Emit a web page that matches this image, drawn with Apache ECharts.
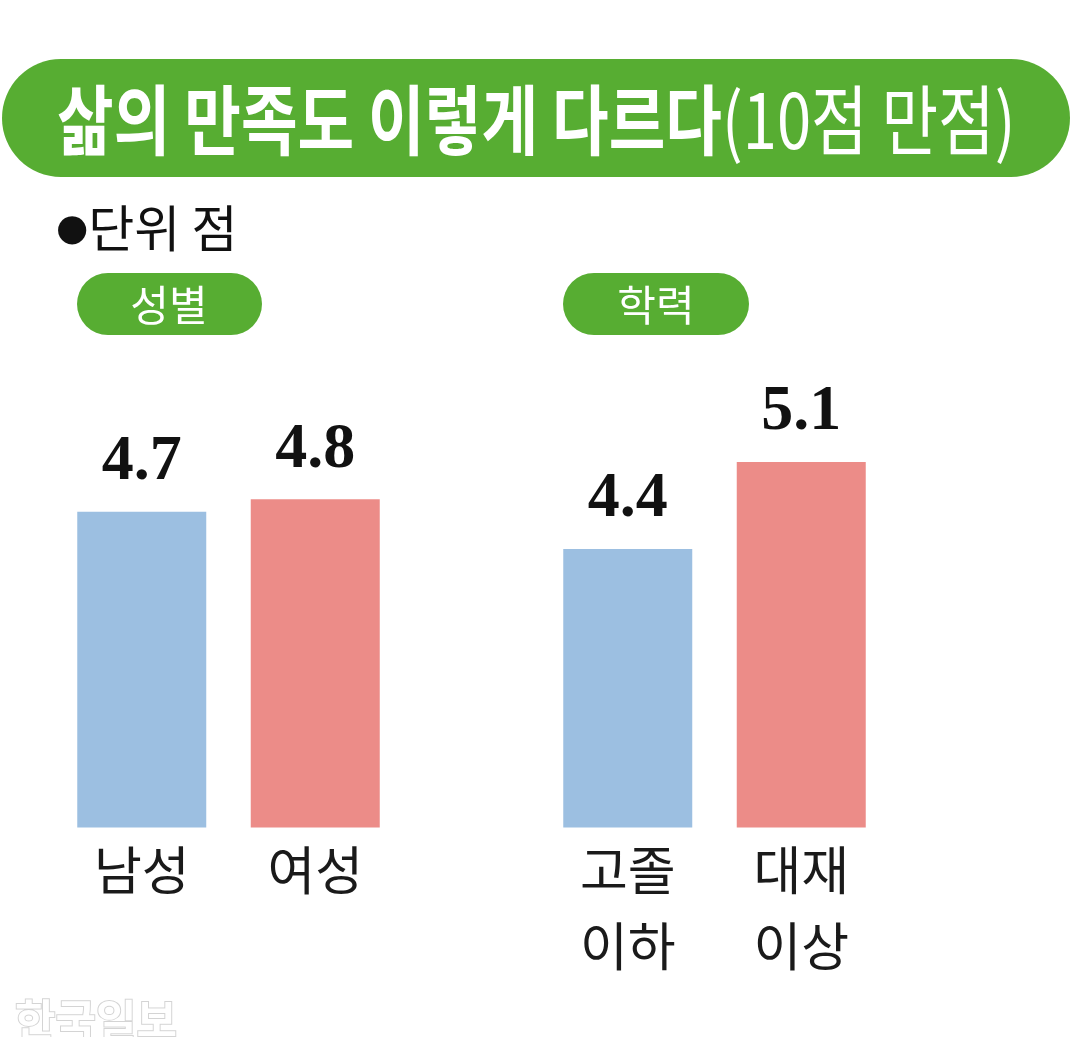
<!DOCTYPE html>
<html>
<head>
<meta charset="utf-8">
<title>삶의 만족도 이렇게 다르다</title>
<style>
  html, body { margin: 0; padding: 0; background: #fff; }
  #chart { width: 1080px; height: 1037px; }
</style>
</head>
<body>
<div id="chart"></div>
<script src="https://cdn.jsdelivr.net/npm/echarts@6/dist/echarts.min.js"></script>
<script>
// 데이터
var genderCats = ['남성', '여성'];
var genderValues = [4.7, 4.8];
var eduCats = ['고졸\n이하', '대재\n이상'];
var eduValues = [4.4, 5.1];
var barColors = ['#9cbfe1', '#ec8c88'];

var green = '#57ad32';
var cjk = '"Noto Sans CJK KR", "Noto Sans", sans-serif';

function barData(values) {
  return values.map(function (v, i) {
    return { value: v, itemStyle: { color: barColors[i] } };
  });
}

var chart = echarts.init(document.getElementById('chart'));

var xAxisBase = {
  type: 'category',
  axisLine: { show: false },
  axisTick: { show: false },
  axisLabel: {
    color: '#1a1a1a',
    fontFamily: cjk,
    fontSize: 52,
    lineHeight: 76,
    margin: 5
  }
};

var yAxisBase = {
  type: 'value',
  min: 2.16,
  max: 6,
  show: false
};

var labelStyle = {
  show: true,
  position: 'top',
  distance: 17,
  color: '#111',
  fontFamily: '"Liberation Serif", serif',
  fontWeight: 'bold',
  fontSize: 64
};

var option = {
  animation: false,
  grid: [
    { left: 55, width: 347, top: 350, bottom: 209.5 },
    { left: 541, width: 347, top: 350, bottom: 209.5 }
  ],
  xAxis: [
    Object.assign({}, xAxisBase, { gridIndex: 0, data: genderCats }),
    Object.assign({}, xAxisBase, { gridIndex: 1, data: eduCats })
  ],
  yAxis: [
    Object.assign({}, yAxisBase, { gridIndex: 0 }),
    Object.assign({}, yAxisBase, { gridIndex: 1 })
  ],
  series: [
    {
      type: 'bar', xAxisIndex: 0, yAxisIndex: 0,
      barWidth: 129, data: barData(genderValues), label: labelStyle
    },
    {
      type: 'bar', xAxisIndex: 1, yAxisIndex: 1,
      barWidth: 129, data: barData(eduValues), label: labelStyle
    }
  ],
  graphic: [
    // 제목 띠
    {
      type: 'rect', left: 2, top: 59,
      shape: { width: 1068, height: 118, r: 59 },
      style: { fill: green }
    },
    {
      type: 'text', x: 57, y: 120, scaleX: 0.81,
      style: {
        text: '{b|삶의 만족도 이렇게 다르다}{r|(10점 만점)}',
        verticalAlign: 'middle',
        rich: {
          b: { fill: '#fff', fontFamily: cjk, fontWeight: 'bold', fontSize: 76 },
          r: { fill: '#fff', fontFamily: cjk, fontWeight: 'normal', fontSize: 76 }
        }
      }
    },
    {
      type: 'text', x: 56, y: 228,
      style: {
        text: '{d|●}{t|단위 점}',
        verticalAlign: 'middle',
        rich: {
          d: { fill: '#111', fontFamily: 'DejaVu Sans', fontSize: 37, padding: [4, 0, 0, 0] },
          t: { fill: '#111', fontFamily: cjk, fontSize: 50 }
        }
      }
    },
    // 소제목
    {
      type: 'rect', left: 77, top: 273,
      shape: { width: 185, height: 62, r: 31 },
      style: { fill: green }
    },
    {
      type: 'text', x: 169, y: 305,
      style: {
        text: '성별', fill: '#fff', fontFamily: cjk, fontSize: 42,
        align: 'center', verticalAlign: 'middle'
      }
    },
    {
      type: 'rect', left: 563, top: 273,
      shape: { width: 186, height: 62, r: 31 },
      style: { fill: green }
    },
    {
      type: 'text', x: 656, y: 305,
      style: {
        text: '학력', fill: '#fff', fontFamily: cjk, fontSize: 42,
        align: 'center', verticalAlign: 'middle'
      }
    },
    // 워터마크
    {
      type: 'text', x: 15, y: 1020,
      style: {
        text: '한국일보', fill: '#fff', stroke: '#d4d4d4', lineWidth: 2,
        fontFamily: cjk, fontWeight: 'bold', fontSize: 44,
        verticalAlign: 'middle'
      }
    }
  ]
};

chart.setOption(option);
</script>
</body>
</html>
